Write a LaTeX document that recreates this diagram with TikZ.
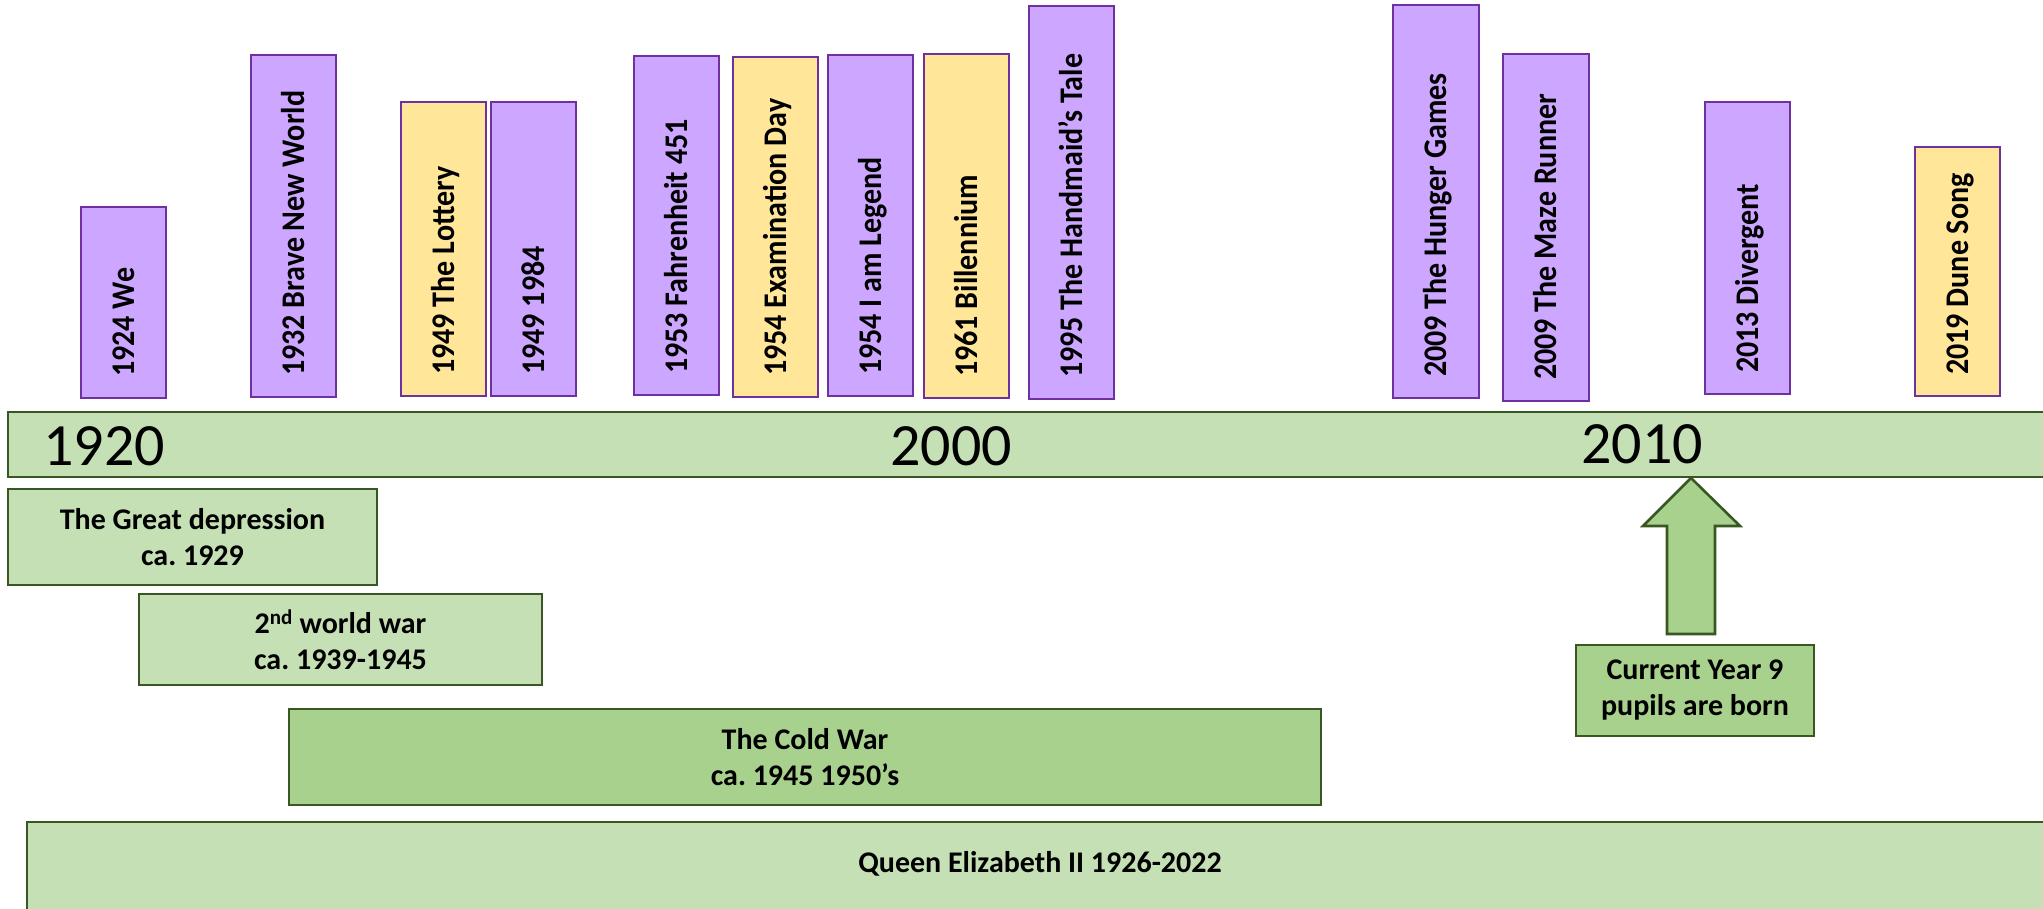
\documentclass[tikz,border=0pt]{standalone}
\usepackage{fontspec}
\setmainfont{Carlito}
\frenchspacing
\definecolor{bookpurple}{HTML}{CCA6FF}
\definecolor{bookline}{HTML}{7030A0}
\definecolor{bookgoldfill}{HTML}{FFE699}
\definecolor{lightgreen}{HTML}{C5E0B4}
\definecolor{midgreen}{HTML}{A9D18E}
\definecolor{darkgreen}{HTML}{385723}
\tikzset{
  book/.style={draw=bookline, line width=2.6pt, fill=bookpurple, inner sep=0pt, outer sep=0pt},
  bookgold/.style={book, fill=bookgoldfill},
  booktext/.style={rotate=90, xscale=0.91, anchor=west, inner sep=0pt, text height=21pt, text depth=0pt,
    font=\fontsize{33}{40}\selectfont\bfseries},
  event/.style={draw=darkgreen, line width=2.6pt, fill=lightgreen, inner sep=0pt, outer sep=0pt,
    align=center, font=\fontsize{30}{36}\selectfont\bfseries},
  eventdark/.style={event, fill=midgreen},
  eventtext/.style={inner sep=0pt, align=center, font=\fontsize{30}{36}\selectfont\bfseries},
  yearlabel/.style={font=\fontsize{60}{72}\selectfont, inner sep=0pt, anchor=base west},
  blockarrow/.style={draw=darkgreen, line width=2.6pt, fill=midgreen, line join=miter},
}
\newcommand\bookbox[7]{%
  \node[#6, minimum width={#4-#2}, minimum height={#5-#3}] (#1) at ({(#2+#4)/2},{(#3+#5)/2}) {};
  \node[booktext] (#1-t) at ([yshift=21pt]#1.south) {#7};}
\newcommand\eventbox[7]{%
  \node[#6, minimum width={#4-#2}, minimum height={#5-#3}] (#1) at ({(#2+#4)/2},{(#3+#5)/2}) {#7};}
\begin{document}
\begin{tikzpicture}[x=1pt,y=-1pt]
\useasboundingbox (0,0) rectangle (2043,909);
\clip (0,0) rectangle (2043,909);
\fill[white] (0,0) rectangle (2043,909);

% timeline bar
\eventbox{bar}{8}{412}{2100}{477}{event}{}
\node[yearlabel] (y1920) at (43,465) {1920};
\node[yearlabel] (y2000) at (890,465) {2000};
\node[yearlabel] (y2010) at (1581,463) {2010};

% books
\bookbox{we}{81}{207}{166}{398}{book}{1924 We}
\bookbox{brave}{251}{55}{336}{397}{book}{1932 Brave New World}
\bookbox{lottery}{401}{102}{486}{396}{bookgold}{1949 The Lottery}
\bookbox{nineteen}{491}{102}{576}{396}{book}{1949 1984}
\bookbox{fahr}{634}{56}{719}{395}{book}{1953 Fahrenheit 451}
\bookbox{exam}{733}{57}{818}{397}{bookgold}{1954 Examination Day}
\bookbox{legend}{828}{55}{913}{396}{book}{1954 I am Legend}
\bookbox{bill}{924}{54}{1009}{398}{bookgold}{1961 Billennium}
\bookbox{hand}{1029}{6}{1114}{399}{book}{1995 The Handmaid’s Tale}
\bookbox{hunger}{1393}{5}{1479}{398}{book}{2009 The Hunger Games}
\bookbox{maze}{1503}{54}{1589}{401}{book}{2009 The Maze Runner}
\bookbox{div}{1705}{102}{1790}{394}{book}{2013 Divergent}
\bookbox{dune}{1915}{147}{2000}{396}{bookgold}{2019 Dune Song}

% events
\eventbox{dep}{8}{489}{377}{585}{event}{The Great depression\\ca. 1929}
\eventbox{ww}{139}{594}{542}{685}{event}{2\textsuperscript{nd} world war\\ca. 1939-1945}
\eventbox{cold}{289}{709}{1321}{805}{eventdark}{The Cold War\\ca. 1945 1950’s}
\eventbox{queen}{27}{822}{2080}{940}{event}{}
\node[eventtext] (queen-t) at (1040,864) {Queen Elizabeth II 1926-2022};
\eventbox{yr9}{1576}{645}{1814}{736}{eventdark}{Current Year 9\\pupils are born}

% block arrow from the Year 9 box up to the bar
\draw[blockarrow] (1667,634) -- (1667,526) -- (1643,526) -- (1691,478) -- (1740,526)
  -- (1715,526) -- (1715,634) -- cycle;
\end{tikzpicture}
\end{document}
